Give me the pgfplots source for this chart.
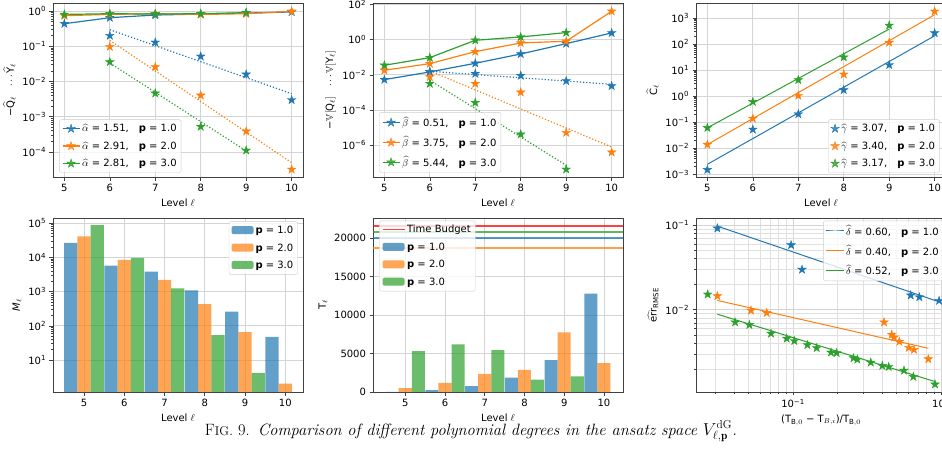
\documentclass[border=0pt]{standalone}
\usepackage{amsmath,amssymb}
\usepackage{fontspec}
\usepackage{pgfplots}
\pgfplotsset{compat=1.18}
\newfontfamily\dv{DejaVu Sans}
\definecolor{tb}{HTML}{1F77B4}
\definecolor{to}{HTML}{FF7F0E}
\definecolor{tg}{HTML}{2CA02C}
\newcommand\p[1]{10\textsuperscript{#1}}
\pgfdeclareplotmark{fstar}{%
  \pgfpathmoveto{\pgfpointpolar{90}{\pgfplotmarksize}}%
  \pgfpathlineto{\pgfpointpolar{126}{0.382\pgfplotmarksize}}%
  \pgfpathlineto{\pgfpointpolar{162}{\pgfplotmarksize}}%
  \pgfpathlineto{\pgfpointpolar{198}{0.382\pgfplotmarksize}}%
  \pgfpathlineto{\pgfpointpolar{234}{\pgfplotmarksize}}%
  \pgfpathlineto{\pgfpointpolar{270}{0.382\pgfplotmarksize}}%
  \pgfpathlineto{\pgfpointpolar{306}{\pgfplotmarksize}}%
  \pgfpathlineto{\pgfpointpolar{342}{0.382\pgfplotmarksize}}%
  \pgfpathlineto{\pgfpointpolar{18}{\pgfplotmarksize}}%
  \pgfpathlineto{\pgfpointpolar{54}{0.382\pgfplotmarksize}}%
  \pgfpathclose
  \pgfusepathqfillstroke}
\pgfplotsset{
  mpl/.style={
    scale only axis, width=250pt, height=174pt,
    axis line style={black!75, line width=0.6pt},
    tick align=outside, tick pos=left,
    major tick length=3.5pt, minor tick length=2pt,
    every tick/.append style={black!75, line width=0.6pt},
    grid=major, major grid style={black!17, line width=0.7pt},
    tick label style={font=\dv\fontsize{10}{11}\selectfont},
    label style={font=\dv\fontsize{10}{11}\selectfont},
    legend style={font=\dv\fontsize{10}{11}\selectfont, draw=black!20, rounded corners=2pt,
      fill=white, fill opacity=0.8, text opacity=1, inner sep=2.5pt, row sep=4.5pt,
      /tikz/every even column/.append style={column sep=4pt}},
    legend cell align=left,
    scaled ticks=false,
  },
  lvl/.style={xlabel={Level $\ell$}, xtick={5,...,10}, xticklabels={5,6,7,8,9,10}},
  ln/.style={#1, line width=1.2pt, mark=fstar, mark size=4.5pt, mark options={solid, line width=0.4pt}},
  dt/.style={#1, dotted, line width=1.2pt, forget plot},
  st/.style={#1, only marks, mark=fstar, mark size=4.5pt, mark options={solid, line width=0.4pt}},
  fl/.style={#1, line width=1.0pt},
  bar/.style={ybar, bar width=0.33, bar shift=#1, draw=none, fill opacity=0.7},
  bleg/.style={legend image code/.code={\fill[#1, fill opacity=0.7] (0pt,-3.5pt) rectangle (22pt,4.5pt);}},
}
\begin{document}
\begin{tikzpicture}
\useasboundingbox (0,0) rectangle (942pt,464pt);
% ---------------- top left
\begin{axis}[mpl, lvl, at={(53pt,287pt)}, anchor=south west, ymode=log,
  xmin=4.75, xmax=10.25, ymin=1.95e-5, ymax=1.69,
  ytick={1e-4,1e-3,1e-2,1e-1,1}, yticklabels={\p{−4},\p{−3},\p{−2},\p{−1},\p{0}},
  ylabel={−$\widehat{\text{Q}}_\ell$\quad$\cdots\widehat{\text{Y}}_\ell$},
  legend style={at={(0.025,0.025)}, anchor=south west}]
\addplot[ln=tb] coordinates {(5,0.437)(6,0.647)(7,0.77)(8,0.82)(9,0.877)(10,0.94)};
\addlegendentry{$\widehat{\alpha}$ = 1.51,\quad\textbf{p} = 1.0}
\addplot[ln=to] coordinates {(5,0.737)(6,0.804)(7,0.84)(8,0.80)(9,0.84)(10,0.98)};
\addlegendentry{$\widehat{\alpha}$ = 2.91,\quad\textbf{p} = 2.0}
\addplot[ln=tg] coordinates {(5,0.80)(6,0.84)(7,0.82)(8,0.84)(9,0.90)};
\addlegendentry{$\widehat{\alpha}$ = 2.81,\quad\textbf{p} = 3.0}
\addplot[dt=tb] coordinates {(6,0.295)(10,0.00452)};
\addplot[dt=to] coordinates {(6,0.147)(10,4.98e-5)};
\addplot[dt=tg] coordinates {(6,0.0335)(9,0.000107)};
\addplot[st=tb, forget plot] coordinates {(6,0.2)(7,0.129)(8,0.0517)(9,0.016)(10,0.003)};
\addplot[st=to, forget plot] coordinates {(6,0.0973)(7,0.0258)(8,0.00405)(9,0.000386)(10,3.2e-5)};
\addplot[st=tg, forget plot] coordinates {(6,0.0357)(7,0.00462)(8,0.000524)(9,0.000111)};
\end{axis}
% ---------------- top middle
\begin{axis}[mpl, lvl, at={(373pt,287pt)}, anchor=south west, ymode=log,
  xmin=4.75, xmax=10.25, ymin=1.58e-8, ymax=120,
  ytick={1e-6,1e-4,1e-2,1,100}, yticklabels={\p{−6},\p{−4},\p{−2},\p{0},\p{2}},
  ylabel={−$\mathbb{V}[\text{Q}_\ell]$\quad$\cdots\mathbb{V}[\text{Y}_\ell]$},
  legend style={at={(0.025,0.025)}, anchor=south west}]
\addplot[ln=tb] coordinates {(5,0.00535)(6,0.0146)(7,0.0453)(8,0.153)(9,0.593)(10,2.39)};
\addlegendentry{$\widehat{\beta}$ = 0.51,\quad\textbf{p} = 1.0}
\addplot[ln=to] coordinates {(5,0.0181)(6,0.0434)(7,0.208)(8,0.647)(9,0.804)(10,40.6)};
\addlegendentry{$\widehat{\beta}$ = 3.75,\quad\textbf{p} = 2.0}
\addplot[ln=tg] coordinates {(5,0.0348)(6,0.095)(7,0.917)(8,1.42)(9,2.5)};
\addlegendentry{$\widehat{\beta}$ = 5.44,\quad\textbf{p} = 3.0}
\addplot[dt=tb] coordinates {(6,0.0159)(10,0.0029)};
\addplot[dt=to] coordinates {(6,0.0166)(10,8.0e-7)};
\addplot[dt=tg] coordinates {(6,0.0049)(9,7.3e-8)};
\addplot[st=tb, forget plot] coordinates {(6,0.015)(7,0.0117)(8,0.00903)(9,0.0045)(10,0.00234)};
\addplot[st=to, forget plot] coordinates {(6,0.0076)(7,0.00317)(8,0.00102)(9,5.2e-6)(10,4e-7)};
\addplot[st=tg, forget plot] coordinates {(6,0.00317)(7,0.000264)(8,4.2e-6)(9,4.3e-8)};
\end{axis}
% ---------------- top right
\begin{axis}[mpl, lvl, at={(696pt,287pt)}, anchor=south west, ymode=log,
  xmin=4.75, xmax=10.25, ymin=7.9e-4, ymax=3784,
  ytick={1e-3,1e-2,1e-1,1,10,100,1000}, yticklabels={\p{−3},\p{−2},\p{−1},\p{0},\p{1},\p{2},\p{3}},
  ylabel={$\widehat{\text{C}}_\ell$},
  legend style={at={(0.975,0.025)}, anchor=south east}]
\addplot[st=tb] coordinates {(5,0.0015)(6,0.053)(7,0.205)(8,1.73)(9,15.9)(10,265)};
\addlegendentry{$\widehat{\gamma}$ = 3.07,\quad\textbf{p} = 1.0}
\addplot[st=to] coordinates {(5,0.0139)(6,0.14)(7,1.05)(8,6.9)(9,115)(10,1810)};
\addlegendentry{$\widehat{\gamma}$ = 3.40,\quad\textbf{p} = 2.0}
\addplot[st=tg] coordinates {(5,0.061)(6,0.61)(7,4.2)(8,31.4)(9,521)};
\addlegendentry{$\widehat{\gamma}$ = 3.17,\quad\textbf{p} = 3.0}
\addplot[fl=tb, forget plot] coordinates {(5,0.00243)(10,208)};
\addplot[fl=to, forget plot] coordinates {(5,0.0139)(10,1343)};
\addplot[fl=tg, forget plot] coordinates {(5,0.061)(9,377)};
\end{axis}
% ---------------- bottom left
\begin{axis}[mpl, lvl, at={(53pt,72pt)}, anchor=south west, ymode=log, log origin=infty,
  xmin=4.23, xmax=10.44, ymin=1.17, ymax=1.41e5,
  ytick={10,100,1000,1e4,1e5}, yticklabels={\p{1},\p{2},\p{3},\p{4},\p{5}},
  ylabel={{\itshape M}$_\ell$},
  legend style={at={(0.98,0.98)}, anchor=north east}]
\addplot[bar=-0.33, fill=tb, bleg=tb] coordinates {(5,26600)(6,5700)(7,3850)(8,1090)(9,260)(10,48)};
\addlegendentry{\textbf{p} = 1.0}
\addplot[bar=0, fill=to, bleg=to] coordinates {(5,41000)(6,8500)(7,2200)(8,430)(9,66)(10,2.07)};
\addlegendentry{\textbf{p} = 2.0}
\addplot[bar=0.33, fill=tg, bleg=tg] coordinates {(5,87000)(6,9700)(7,1250)(8,54)(9,4.2)};
\addlegendentry{\textbf{p} = 3.0}
\end{axis}
% ---------------- bottom middle
\begin{axis}[mpl, lvl, at={(373pt,72pt)}, anchor=south west,
  xmin=4.19, xmax=10.48, ymin=0, ymax=22650,
  ytick={0,5000,10000,15000,20000}, yticklabels={0,5000,10000,15000,20000},
  ylabel={T$_\ell$},
  legend style={at={(0.025,0.985)}, anchor=north west}]
\addplot[red, opacity=0.75, line width=1.6pt, legend image code/.code={\draw[red, line width=1.2pt] (0pt,0pt) -- (22pt,0pt);}] coordinates {(4.19,21610)(10.48,21610)};
\addlegendentry{Time Budget}
\addplot[bar=-0.33, fill=tb, bleg=tb] coordinates {(5,30)(6,260)(7,780)(8,1870)(9,4140)(10,12810)};
\addlegendentry{\textbf{p} = 1.0}
\addplot[bar=0, fill=to, bleg=to] coordinates {(5,520)(6,1180)(7,2350)(8,2880)(9,7760)(10,3750)};
\addlegendentry{\textbf{p} = 2.0}
\addplot[bar=0.33, fill=tg, bleg=tg] coordinates {(5,5320)(6,6190)(7,5450)(8,1610)(9,2050)};
\addlegendentry{\textbf{p} = 3.0}
\addplot[tg, opacity=0.75, line width=1.2pt, forget plot] coordinates {(4.19,20830)(10.48,20830)};
\addplot[tb, opacity=0.75, line width=1.2pt, forget plot] coordinates {(4.19,20040)(10.48,20040)};
\addplot[to, opacity=0.75, line width=1.2pt, forget plot] coordinates {(4.19,18740)(10.48,18740)};
\end{axis}
% ---------------- bottom right
\begin{axis}[mpl, at={(696pt,72pt)}, anchor=south west, xmode=log, ymode=log,
  xmin=0.0221, xmax=1.08, ymin=1.07e-3, ymax=0.121,
  xtick={0.1,1}, xticklabels={\p{−1},\p{0}},
  ytick={0.01,0.1}, yticklabels={\p{−2},\p{−1}},
  minor xtick={0.03,0.04,0.05,0.06,0.07,0.08,0.09,0.2,0.3,0.4,0.5,0.6,0.7,0.8,0.9},
  minor ytick={0.002,0.003,0.004,0.005,0.006,0.007,0.008,0.009,0.02,0.03,0.04,0.05,0.06,0.07,0.08,0.09},
  grid=both, minor grid style={black!12, line width=0.5pt},
  xlabel={(T$_{\text{B},0}$ − T$_{B,i}$)/T$_{\text{B},0}$},
  ylabel={$\widehat{\text{err}}_{\text{RMSE}}$},
  legend style={at={(0.99,0.985)}, anchor=north east}]
\addplot[fl=tb] coordinates {(0.0308,0.097)(0.97,0.0124)};
\addlegendentry{$\widehat{\delta}$ = 0.60,\quad\textbf{p} = 1.0}
\addplot[fl=to] coordinates {(0.0308,0.01289)(0.82,0.00351)};
\addlegendentry{$\widehat{\delta}$ = 0.40,\quad\textbf{p} = 2.0}
\addplot[fl=tg] coordinates {(0.0308,0.00887)(0.91,0.00142)};
\addlegendentry{$\widehat{\delta}$ = 0.52,\quad\textbf{p} = 3.0}
\addplot[st=tb, forget plot] coordinates {(0.0308,0.0914)(0.097,0.058)(0.115,0.0298)(0.624,0.0148)(0.713,0.0141)(0.97,0.0128)};
\addplot[st=to, forget plot] coordinates {(0.0308,0.01452)(0.052,0.00981)(0.0664,0.0092)(0.412,0.00713)(0.464,0.00509)(0.481,0.00473)(0.523,0.00421)(0.605,0.00357)(0.657,0.00338)(0.82,0.00262)};
\addplot[st=tg, forget plot] coordinates {(0.0265,0.0152)(0.0406,0.00713)(0.0507,0.00664)(0.071,0.00524)(0.0906,0.00457)(0.102,0.00429)(0.125,0.00384)(0.1445,0.00354)(0.1805,0.00314)(0.197,0.00309)(0.256,0.00269)(0.272,0.00259)(0.335,0.00239)(0.401,0.00218)(0.443,0.00212)(0.562,0.00192)(0.650,0.00162)(0.91,0.00132)};
\end{axis}
% ---------------- caption
\node[anchor=base, inner sep=0pt] at (471pt,29pt) {\fontsize{16.4}{20}\selectfont F{\fontsize{12.7}{15}\selectfont IG}. 9.\enspace\itshape Comparison of different polynomial degrees in the ansatz space $V_{\ell,\mathbf{p}}^{\mathrm{dG}}$.};
\end{tikzpicture}
\end{document}
